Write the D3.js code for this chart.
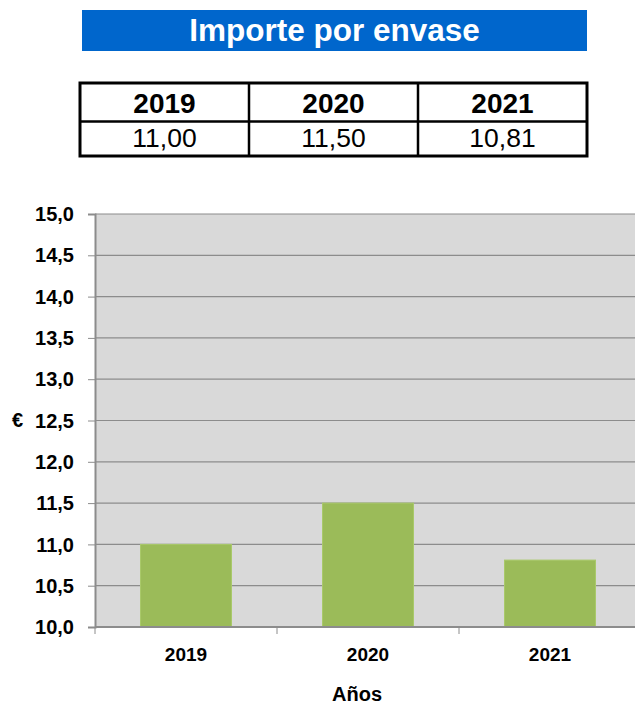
<!DOCTYPE html>
<html><head><meta charset="utf-8">
<script src="https://cdn.jsdelivr.net/npm/d3@7"></script>
<style>body{margin:0;background:#fff;}svg{display:block;font-family:"Liberation Sans",Arial,sans-serif;}</style>
</head><body>
<script>
const categories = ["2019","2020","2021"];
const values = [11.00, 11.50, 10.81];
const tableLabels = ["11,00","11,50","10,81"];
const yTicks = [10,10.5,11,11.5,12,12.5,13,13.5,14,14.5,15];
const title = "Importe por envase";

const W=635,H=704;
const svg=d3.select("body").append("svg").attr("width",W).attr("height",H);
const FF="Liberation Sans, Arial, sans-serif";

// title bar
svg.append("rect").attr("x",82).attr("y",10).attr("width",505).attr("height",41).attr("fill","#0066CC");
svg.append("text").attr("x",334.5).attr("y",41).attr("text-anchor","middle").attr("fill","#fff")
  .attr("font-weight","bold").attr("font-size",31.5).text(title);

// table
const tx=d3.scaleBand().domain(categories).range([80,587]);
const tg=svg.append("g");
tg.append("rect").attr("x",80).attr("y",83).attr("width",507).attr("height",73).attr("fill","none").attr("stroke","#000").attr("stroke-width",3);
tg.append("line").attr("x1",80).attr("x2",587).attr("y1",121.5).attr("y2",121.5).attr("stroke","#000").attr("stroke-width",2.5);
categories.slice(1).forEach(c=>{
  tg.append("line").attr("x1",tx(c)).attr("x2",tx(c)).attr("y1",83).attr("y2",156).attr("stroke","#000").attr("stroke-width",2.5);
});
categories.forEach((c,i)=>{
  tg.append("text").attr("x",tx(c)+tx.bandwidth()/2).attr("y",113).attr("text-anchor","middle").attr("font-weight","bold").attr("font-size",28).text(c);
  tg.append("text").attr("x",tx(c)+tx.bandwidth()/2).attr("y",147).attr("text-anchor","middle").attr("font-size",26.5).text(tableLabels[i]);
});

// chart
const pLeft=95,pRight=641,pTop=214,pBottom=627;
const x=d3.scaleBand().domain(categories).range([pLeft,pRight]).paddingInner(0.5).paddingOuter(0.25);
const xb=d3.scaleBand().domain(categories).range([pLeft,pRight]);
const y=d3.scaleLinear().domain([10,15]).range([pBottom,pTop]);

svg.append("rect").attr("x",pLeft).attr("y",pTop).attr("width",pRight-pLeft).attr("height",pBottom-pTop).attr("fill","#D9D9D9");
svg.append("g").selectAll("line").data(yTicks.slice(1)).join("line")
  .attr("x1",pLeft).attr("x2",pRight).attr("y1",d=>y(d)).attr("y2",d=>y(d)).attr("stroke","#8C8C8C").attr("stroke-width",1.2);

svg.append("g").selectAll("rect").data(values).join("rect")
  .attr("x",(d,i)=>x(categories[i])).attr("width",x.bandwidth())
  .attr("y",d=>y(d)).attr("height",d=>y(10)-y(d))
  .attr("fill","#9BBB59").attr("stroke","#A9C96A").attr("stroke-width",1);

// y axis
const ya=svg.append("g").attr("transform",`translate(${pLeft},0)`)
  .call(d3.axisLeft(y).tickValues(yTicks).tickSize(7).tickFormat(d=>d3.format(".1f")(d).replace(".",",")));
ya.attr("font-family",FF).attr("font-size",20);
ya.select(".domain").attr("stroke","#8C8C8C").attr("stroke-width",2);
ya.selectAll(".tick line").attr("stroke","#8C8C8C");
ya.selectAll(".tick text").attr("font-size",20).attr("font-weight","bold").attr("fill","#000").attr("x",-21).attr("dy","0.33em");

// x axis
const xa=svg.append("g").attr("transform",`translate(0,${pBottom})`);
xa.append("line").attr("x1",pLeft).attr("x2",pRight).attr("stroke","#8C8C8C").attr("stroke-width",2);
xa.selectAll("line.t").data(categories).join("line").attr("class","t")
  .attr("x1",d=>xb(d)).attr("x2",d=>xb(d)).attr("y1",0).attr("y2",7).attr("stroke","#8C8C8C");
xa.selectAll("text").data(categories).join("text")
  .attr("x",d=>xb(d)+xb.bandwidth()/2).attr("y",34).attr("text-anchor","middle")
  .attr("font-size",19).attr("font-weight","bold").text(d=>d);

svg.append("text").attr("x",17.5).attr("y",427).attr("text-anchor","middle").attr("font-size",20).attr("font-weight","bold").text("€");
svg.append("text").attr("x",357).attr("y",701).attr("text-anchor","middle").attr("font-size",20).attr("font-weight","bold").text("Años");
</script>
</body></html>
